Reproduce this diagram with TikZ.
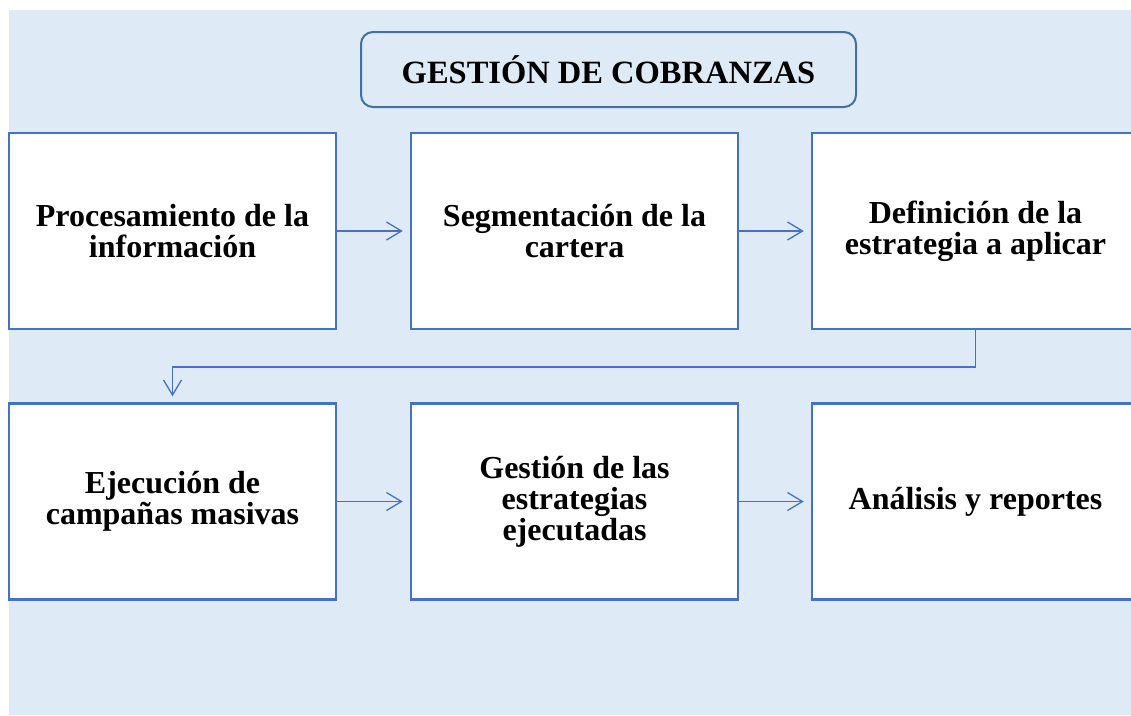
\documentclass[tikz,border=0pt]{standalone}
\usepackage{fontspec}
\setmainfont{Liberation Serif}
\usetikzlibrary{arrows.meta}
\definecolor{bgblue}{HTML}{DEEAF6}
\definecolor{lineblue}{HTML}{4472C4}
\definecolor{titleline}{HTML}{41719C}
\tikzset{
  stepbox/.style={draw=lineblue, line width=2.5pt, fill=white, minimum width=327pt, minimum height=196pt, inner sep=0pt, align=center, font=\bfseries\fontsize{32}{31}\selectfont},
  titlebox/.style={draw=titleline, line width=2pt, fill=bgblue, rounded corners=12pt, minimum width=495pt, minimum height=75pt, inner sep=0pt, font=\bfseries\fontsize{32.5}{31}\selectfont},
  link/.style={draw=lineblue, line width=1.3pt, -{Straight Barb[length=15pt,width=18pt,line width=1.3pt]}, shorten >=7pt}
}
\begin{document}
\begin{tikzpicture}[x=1pt,y=-1pt]
\useasboundingbox (0,0) rectangle (1131,715);
\clip (0,0) rectangle (1131,715);
\fill[bgblue] (9,10) rectangle (1131,715);
\node[titlebox] (title) at (608.5,69.5) {GESTIÓN DE COBRANZAS};
\node[stepbox] (b1) at (172.5,231) {Procesamiento de la\\información};
\node[stepbox] (b2) at (574.5,231) {Segmentación de la\\cartera};
\node[stepbox] (b3) at (975.5,231) {Definición de la\\estrategia a aplicar};
\node[stepbox] (b4) at (172.5,501.5) {Ejecución de\\campañas masivas};
\node[stepbox] (b5) at (574.5,501.5) {Gestión de las\\estrategias\\ejecutadas};
\node[stepbox] (b6) at (975.5,501.5) {Análisis y reportes};
\draw[link] (b1.east) -- (b2.west);
\draw[link] (b2.east) -- (b3.west);
\draw[link] (b4.east) -- (b5.west);
\draw[link] (b5.east) -- (b6.west);
\coordinate (m1) at (975.5,367);
\coordinate (m2) at (172.5,367);
\draw[link, shorten >=6pt] (b3.south) -- (m1) -- (m2) -- (b4.north);
\end{tikzpicture}
\end{document}
